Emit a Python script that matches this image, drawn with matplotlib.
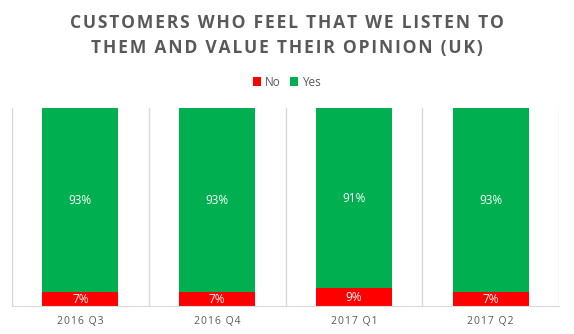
import matplotlib.pyplot as plt
import numpy as np

# data
quarters = ["2016 Q3", "2016 Q4", "2017 Q1", "2017 Q2"]
no_pct = [7, 7, 9, 7]
yes_pct = [93, 93, 91, 93]

RED = "#FF0000"
GREEN = "#00B050"
GREY = "#595959"
GRID = "#D9D9D9"


def spaced(s, gap="\u200a"):
    # fake letter spacing, Excel style
    return gap.join(s)


fig = plt.figure(figsize=(5.74, 3.34), dpi=100)
ax = fig.add_axes([12 / 574, 1 - 306 / 334, (559 - 12) / 574, (306 - 108) / 334])

x = np.arange(len(quarters))
no = np.array(no_pct) / 100
yes = np.array(yes_pct) / 100

b1 = ax.bar(x, no, width=0.555, color=RED, label="No")
b2 = ax.bar(x, yes, width=0.555, bottom=no, color=GREEN, label="Yes")

for i in range(len(x)):
    ax.text(x[i], no[i] / 2, f"{no_pct[i]}%", ha="center", va="center",
            color="white", fontsize=8.5, family="Open Sans")
    ax.text(x[i], no[i] + yes[i] / 2, f"{yes_pct[i]}%", ha="center", va="center",
            color="white", fontsize=8.5, family="Open Sans")

ax.set_xlim(-0.5, len(x) - 0.5)
ax.set_ylim(0, 1)
ax.set_yticks([])
ax.set_xticks(x)
ax.set_xticklabels([spaced(q) for q in quarters], color=GREY, fontsize=7.5, family="Open Sans")
ax.tick_params(axis="x", length=0, pad=7)

# category separators
for sep in np.arange(-0.5, len(x), 1.0):
    ax.axvline(sep, color=GRID, lw=1, zorder=0)
for s in ["top", "left", "right"]:
    ax.spines[s].set_visible(False)
ax.spines["bottom"].set_color(GRID)

fig.text(0.5, 1 - 35.5 / 334,
         spaced("CUSTOMERS WHO FEEL THAT WE LISTEN TO") + "\n" +
         spaced("THEM AND VALUE THEIR OPINION (UK)"),
         ha="center", va="center", fontsize=12.6, fontweight="bold",
         color=GREY, family="Open Sans", linespacing=1.45)

fig.legend(handles=[b1, b2], loc="center", bbox_to_anchor=(0.5, 1 - 82 / 334),
           ncol=2, frameon=False, handlelength=0.7, handleheight=0.7,
           handletextpad=0.3, columnspacing=0.8, labelcolor=GREY,
           prop={"family": "Open Sans", "size": 8.5})

fig.savefig("out.png", dpi=100)
